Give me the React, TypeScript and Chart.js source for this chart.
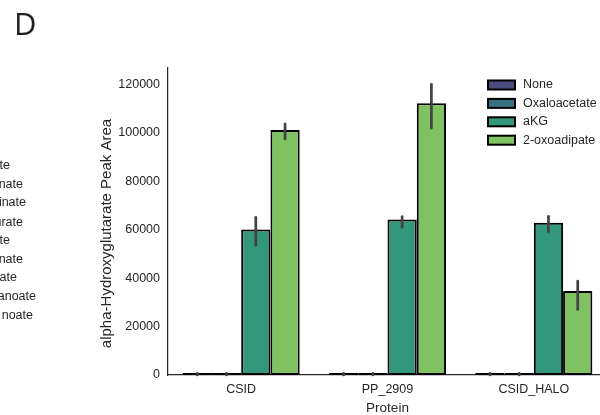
import React, { useEffect, useRef } from 'react';
import { Chart, registerables } from 'chart.js';

Chart.register(...registerables);

// ---- data ----
const categories = ['CSID', 'PP_2909', 'CSID_HALO'];
const hueLabels = ['None', 'Oxaloacetate', 'aKG', '2-oxoadipate'];
const hueColors = ['#4a4c7e', '#367182', '#33977c', '#80c161'];

const noneValues = [0, 0, 0];
const oxaloacetateValues = [0, 0, 0];
const akgValues = [60000, 64200, 62800];
const oxoadipateValues = [101100, 112200, 34700];

const noneErrLow = [0, 0, 0];
const noneErrHigh = [700, 700, 700];
const oxaloacetateErrLow = [0, 0, 0];
const oxaloacetateErrHigh = [700, 700, 700];
const akgErrLow = [53500, 61000, 59100];
const akgErrHigh = [65100, 65400, 65500];
const oxoadipateErrLow = [97400, 101900, 27000];
const oxoadipateErrHigh = [103600, 120000, 38800];

const yTicks = [0, 20000, 40000, 60000, 80000, 100000, 120000];
const yMax = 126700;

const yTitle = 'alpha-Hydroxyglutarate Peak Area';
const xTitle = 'Protein';
const panelLetter = 'D';
const neighbourFragments = ['ate', 'nate', 'inate', 'urate', 'ate', 'nate', 'ate', 'anoate', 'noate'];
const fragmentEnds = [10, 23, 26, 23, 10, 23, 17, 36, 33];
const fragmentCenters = [165, 183.5, 202, 221.5, 240, 258.5, 277, 295.5, 315];

const seriesValues = [noneValues, oxaloacetateValues, akgValues, oxoadipateValues];
const seriesErrLow = [noneErrLow, oxaloacetateErrLow, akgErrLow, oxoadipateErrLow];
const seriesErrHigh = [noneErrHigh, oxaloacetateErrHigh, akgErrHigh, oxoadipateErrHigh];

const FONT = "'Liberation Sans', Arial, sans-serif";
const TEXT = '#262626';

const errorBarPlugin = {
  id: 'errorBars',
  afterDatasetsDraw(chart: any) {
    const ctx = chart.ctx;
    const yScale = chart.scales.y;
    ctx.save();
    ctx.strokeStyle = '#424242';
    ctx.lineWidth = 2.7;
    ctx.lineCap = 'round';
    chart.data.datasets.forEach((ds: any, i: number) => {
      const meta = chart.getDatasetMeta(i);
      meta.data.forEach((bar: any, j: number) => {
        const lo = yScale.getPixelForValue(ds.errLow[j]);
        const hi = yScale.getPixelForValue(ds.errHigh[j]);
        ctx.beginPath();
        ctx.moveTo(bar.x, lo);
        ctx.lineTo(bar.x, hi);
        ctx.stroke();
      });
    });
    ctx.restore();
  },
};

const yTitlePlugin = {
  id: 'yTitleText',
  afterDraw(chart: any) {
    const ctx = chart.ctx;
    const area = chart.chartArea;
    ctx.save();
    ctx.font = `15px ${FONT}`;
    ctx.fillStyle = TEXT;
    ctx.textAlign = 'center';
    ctx.textBaseline = 'middle';
    ctx.translate(area.left - 61, (area.top + area.bottom) / 2 + 12);
    ctx.rotate(-Math.PI / 2);
    ctx.fillText(yTitle, 0, 0);
    ctx.restore();
  },
};

const legendPlugin = {
  id: 'customLegend',
  afterDraw(chart: any) {
    const ctx = chart.ctx;
    ctx.save();
    ctx.font = `12.5px ${FONT}`;
    ctx.textBaseline = 'middle';
    ctx.textAlign = 'left';
    const x0 = 488;
    const y0 = 85;
    const step = 18.4;
    chart.data.datasets.forEach((ds: any, i: number) => {
      const cy = y0 + i * step;
      ctx.fillStyle = ds.backgroundColor;
      ctx.fillRect(x0, cy - 4.5, 27, 9);
      ctx.strokeStyle = '#000';
      ctx.lineWidth = 2;
      ctx.strokeRect(x0, cy - 4.5, 27, 9);
      ctx.fillStyle = TEXT;
      ctx.fillText(ds.label, x0 + 35, cy);
    });
    ctx.restore();
  },
};

export default function App() {
  const canvasRef = useRef<HTMLCanvasElement | null>(null);

  useEffect(() => {
    if (!canvasRef.current) return;
    const chart = new Chart(canvasRef.current, {
      type: 'bar',
      data: {
        labels: categories,
        datasets: hueLabels.map((label, i) => ({
          label,
          data: seriesValues[i],
          errLow: seriesErrLow[i],
          errHigh: seriesErrHigh[i],
          backgroundColor: hueColors[i],
          borderColor: '#000000',
          borderWidth: 2,
          borderSkipped: false,
          minBarLength: 2,
          categoryPercentage: 0.8,
          barPercentage: 1.0,
        })) as any,
      },
      options: {
        responsive: false,
        animation: false,
        events: [],
        layout: { padding: { left: 0, top: 68, right: 33, bottom: 0 } },
        plugins: {
          legend: { display: false },
          tooltip: { enabled: false },
        },
        scales: {
          x: {
            grid: { display: false, drawTicks: false },
            border: { display: true, color: TEXT, width: 1.25 },
            ticks: { color: TEXT, font: { family: FONT, size: 12.5 }, padding: 7 },
            title: {
              display: true,
              text: xTitle,
              color: TEXT,
              font: { family: FONT, size: 13.5, lineHeight: 1 },
              padding: { top: 0, bottom: 0 },
            },
            afterFit(scale: any) {
              scale.height = 40;
            },
          },
          y: {
            min: 0,
            max: yMax,
            grid: { display: false, drawTicks: false },
            border: { display: true, color: TEXT, width: 1.25 },
            afterBuildTicks(scale: any) {
              scale.ticks = yTicks.map((v) => ({ value: v }));
            },
            ticks: {
              color: TEXT,
              font: { family: FONT, size: 12.5 },
              padding: 8,
              callback: (v: any) => String(v),
            },
            afterFit(scale: any) {
              scale.width = 168;
            },
          },
        },
      } as any,
      plugins: [errorBarPlugin, legendPlugin, yTitlePlugin],
    });
    return () => chart.destroy();
  }, []);

  return (
    <div
      style={{
        position: 'fixed',
        left: 0,
        top: 0,
        width: 600,
        height: 415,
        overflow: 'hidden',
        background: '#ffffff',
      }}
    >
      <canvas ref={canvasRef} width={640} height={415} style={{ position: 'absolute', left: 0, top: 0, width: 640, height: 415 }} />
      <div
        style={{
          position: 'absolute',
          left: 14,
          top: 3,
          fontFamily: "'Open Sans', sans-serif",
          fontSize: 31,
          lineHeight: '40px',
          color: '#231f20',
        }}
      >
        {panelLetter}
      </div>
      {neighbourFragments.map((t, i) => (
        <div
          key={i}
          style={{
            position: 'absolute',
            right: 600 - fragmentEnds[i],
            top: fragmentCenters[i] - 8,
            height: 16,
            lineHeight: '16px',
            fontFamily: FONT,
            fontSize: 12.5,
            color: TEXT,
            whiteSpace: 'nowrap',
            textAlign: 'right',
          }}
        >
          {t}
        </div>
      ))}
    </div>
  );
}
